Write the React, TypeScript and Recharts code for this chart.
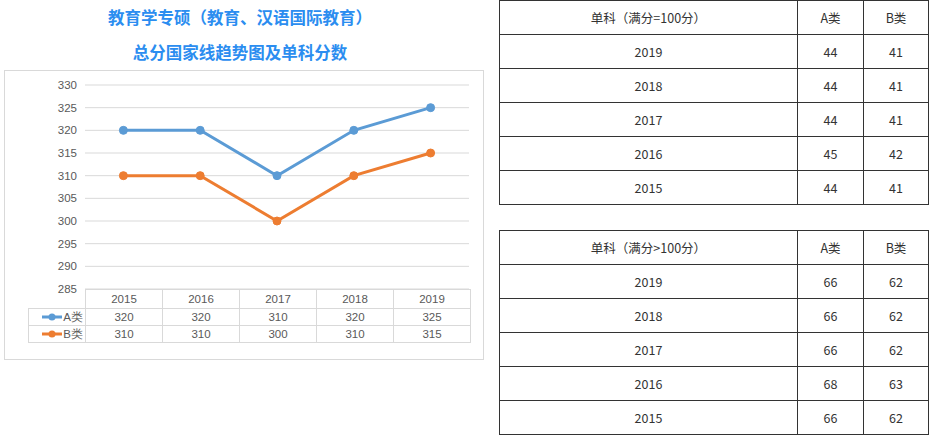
import React from 'react';
import { LineChart, Line, XAxis, YAxis, CartesianGrid } from 'recharts';

const years = ['2015', '2016', '2017', '2018', '2019'];
const seriesA = [320, 320, 310, 320, 325];
const seriesB = [310, 310, 300, 310, 315];
const yTicks = [285, 290, 295, 300, 305, 310, 315, 320, 325, 330];

const tableYears = ['2019', '2018', '2017', '2016', '2015'];
const single100A = [44, 44, 44, 45, 44];
const single100B = [41, 41, 41, 42, 41];
const singleOverA = [66, 66, 66, 68, 66];
const singleOverB = [62, 62, 62, 63, 62];

const BLUE = '#5b9bd5';
const ORANGE = '#ed7d31';
const GRID = '#d9d9d9';
const CJK = '"Noto Sans CJK SC", "Noto Sans", sans-serif';

const data = years.map((y, i) => ({ year: y, A: seriesA[i], B: seriesB[i] }));

function ScoreTable({ title, a, b, top }: { title: string; a: number[]; b: number[]; top: number }) {
  const cell: React.CSSProperties = {
    border: '1px solid #333',
    textAlign: 'center',
    padding: 0,
    height: 33,
  };
  return (
    <table
      style={{
        position: 'absolute', left: 499, top, width: 429, borderCollapse: 'collapse',
        fontFamily: CJK, fontSize: 12.5, color: '#333', tableLayout: 'fixed',
      }}
    >
      <colgroup>
        <col style={{ width: 298 }} />
        <col style={{ width: 66 }} />
        <col style={{ width: 65 }} />
      </colgroup>
      <tbody>
        <tr>
          <td style={cell}>{title}</td>
          <td style={cell}>A类</td>
          <td style={cell}>B类</td>
        </tr>
        {tableYears.map((y, i) => (
          <tr key={y}>
            <td style={cell}>{y}</td>
            <td style={cell}>{a[i]}</td>
            <td style={cell}>{b[i]}</td>
          </tr>
        ))}
      </tbody>
    </table>
  );
}

function LegendKey({ color, label }: { color: string; label: string }) {
  return (
    <div style={{ display: 'flex', alignItems: 'center', justifyContent: 'flex-end', paddingRight: 2 }}>
      <svg width={20} height={8} style={{ marginRight: 1 }}>
        <line x1={0} y1={4} x2={20} y2={4} stroke={color} strokeWidth={3} />
        <circle cx={10} cy={4} r={3.5} fill={color} />
      </svg>
      <span>{label}</span>
    </div>
  );
}

export default function App() {
  const tdStyle: React.CSSProperties = {
    border: `1px solid ${GRID}`,
    textAlign: 'center',
    padding: 0,
    lineHeight: '15px',
  };
  const titleStyle: React.CSSProperties = {
    position: 'absolute', left: 0, width: 480, textAlign: 'center', fontFamily: CJK,
    fontWeight: 700, fontSize: 16.5, color: '#2b8df0', lineHeight: '22px',
  };
  return (
    <div style={{ position: 'fixed', left: 0, top: 0, width: 931, height: 440, background: '#fff', overflow: 'hidden' }}>
      <div style={{ ...titleStyle, top: 6 }}>教育学专硕（教育、汉语国际教育）</div>
      <div style={{ ...titleStyle, top: 41 }}>总分国家线趋势图及单科分数</div>

      <div style={{ position: 'absolute', left: 4, top: 70, width: 478, height: 288, border: `1px solid ${GRID}` }} />

      <div style={{ position: 'absolute', left: 0, top: 70 }}>
        <LineChart width={490} height={230} data={data} margin={{ top: 15, right: 21, bottom: 11, left: 25 }}>
          <CartesianGrid vertical={false} stroke={GRID} />
          <XAxis dataKey="year" hide padding={{ left: 38.4, right: 38.4 }} />
          <YAxis
            width={60}
            domain={[285, 330]}
            ticks={yTicks}
            axisLine={false}
            tickLine={false}
            interval={0}
            tick={{ fill: '#595959', fontSize: 11.5, fontFamily: 'Liberation Sans, sans-serif' }}
          />
          <Line type="linear" dataKey="A" stroke={BLUE} strokeWidth={3} dot={{ r: 4, fill: BLUE, stroke: BLUE, strokeWidth: 1 }} isAnimationActive={false} />
          <Line type="linear" dataKey="B" stroke={ORANGE} strokeWidth={3} dot={{ r: 4, fill: ORANGE, stroke: ORANGE, strokeWidth: 1 }} isAnimationActive={false} />
        </LineChart>
      </div>

      <table
        style={{
          position: 'absolute', left: 28, top: 289, width: 442, borderCollapse: 'collapse', tableLayout: 'fixed',
          fontFamily: 'Liberation Sans, sans-serif', fontSize: 11.5, color: '#595959',
        }}
      >
        <colgroup>
          <col style={{ width: 57 }} />
          {years.map((y) => <col key={y} style={{ width: 77 }} />)}
        </colgroup>
        <tbody>
          <tr style={{ height: 19 }}>
            <td style={{ padding: 0, border: 'none' }} />
            {years.map((y) => <td key={y} style={tdStyle}>{y}</td>)}
          </tr>
          <tr style={{ height: 17 }}>
            <td style={tdStyle}><LegendKey color={BLUE} label="A类" /></td>
            {seriesA.map((v, i) => <td key={i} style={tdStyle}>{v}</td>)}
          </tr>
          <tr style={{ height: 17 }}>
            <td style={tdStyle}><LegendKey color={ORANGE} label="B类" /></td>
            {seriesB.map((v, i) => <td key={i} style={tdStyle}>{v}</td>)}
          </tr>
        </tbody>
      </table>

      <ScoreTable title="单科（满分=100分）" a={single100A} b={single100B} top={0} />
      <ScoreTable title="单科（满分>100分）" a={singleOverA} b={singleOverB} top={230} />
    </div>
  );
}
